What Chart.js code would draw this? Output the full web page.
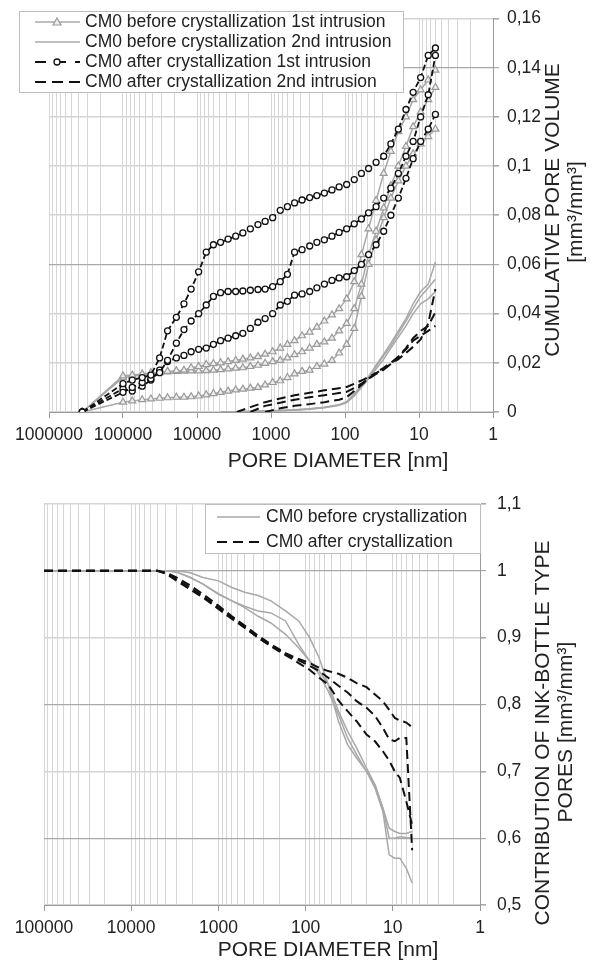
<!DOCTYPE html>
<html>
<head>
<meta charset="utf-8">
<script src="https://cdn.jsdelivr.net/npm/chart.js@4/dist/chart.umd.min.js"></script>
<style>
  body { margin: 0; background: #fff; }
  canvas { position: absolute; left: 0; }
  #top_chart { top: 0; }
  #bottom_chart { top: 482px; }
</style>
</head>
<body>
<canvas id="top_chart" width="595" height="480"></canvas>
<canvas id="bottom_chart" width="595" height="482"></canvas>
<script>
// ---- top chart: cumulative pore volume ----
// pore diameters [nm], 1st intrusion
const d_first = [355000, 100000, 75000, 55000, 42000, 32000, 25000, 19000, 15000, 12000, 9500, 7500, 6000, 4800, 3800, 3000, 2400, 1900, 1500, 1200, 950, 750, 600, 480, 380, 300, 240, 190, 150, 120, 95, 75, 60, 48, 38, 30, 24, 19, 15, 12, 9.5, 7.5, 6];
// before crystallization, 1st intrusion (3 samples)
const before_1st_a = [0, 0.0147, 0.015, 0.0155, 0.016, 0.0162, 0.0165, 0.0168, 0.017, 0.018, 0.0185, 0.0193, 0.0197, 0.02, 0.0205, 0.021, 0.0215, 0.022, 0.0225, 0.0235, 0.0245, 0.026, 0.0275, 0.029, 0.031, 0.0325, 0.0345, 0.037, 0.0395, 0.042, 0.046, 0.053, 0.064, 0.0745, 0.086, 0.097, 0.106, 0.114, 0.12, 0.127, 0.131, 0.135, 0.139];
const before_1st_b = [0, 0.014, 0.0145, 0.015, 0.0155, 0.016, 0.0163, 0.0165, 0.0166, 0.0167, 0.0167, 0.0168, 0.017, 0.0172, 0.0175, 0.0178, 0.018, 0.0185, 0.019, 0.0198, 0.0205, 0.021, 0.022, 0.0233, 0.0245, 0.026, 0.0275, 0.0285, 0.03, 0.033, 0.036, 0.042, 0.052, 0.064, 0.0735, 0.083, 0.092, 0.1, 0.108, 0.116, 0.122, 0.127, 0.132];
const before_1st_c = [0, 0.004, 0.0045, 0.005, 0.0053, 0.0056, 0.0058, 0.006, 0.006, 0.0062, 0.0065, 0.007, 0.0075, 0.008, 0.0085, 0.009, 0.0093, 0.0097, 0.01, 0.011, 0.012, 0.0127, 0.014, 0.0155, 0.0165, 0.017, 0.0185, 0.0195, 0.021, 0.024, 0.0275, 0.034, 0.047, 0.06, 0.07, 0.079, 0.087, 0.094, 0.1, 0.105, 0.109, 0.112, 0.115];
// after crystallization, 1st intrusion (3 samples)
const after_1st_a = [0, 0.0115, 0.013, 0.014, 0.015, 0.022, 0.033, 0.0385, 0.044, 0.05, 0.057, 0.065, 0.068, 0.069, 0.0703, 0.0715, 0.0728, 0.0745, 0.0762, 0.0775, 0.079, 0.082, 0.0835, 0.085, 0.0862, 0.0872, 0.088, 0.089, 0.0903, 0.0915, 0.0925, 0.0945, 0.097, 0.099, 0.1015, 0.104, 0.109, 0.115, 0.123, 0.13, 0.136, 0.145, 0.148];
const after_1st_b = [0, 0.008, 0.01, 0.012, 0.0135, 0.016, 0.021, 0.028, 0.0335, 0.037, 0.04, 0.0435, 0.047, 0.0485, 0.049, 0.049, 0.0492, 0.0495, 0.0498, 0.05, 0.051, 0.053, 0.056, 0.065, 0.066, 0.0675, 0.069, 0.07, 0.0715, 0.073, 0.0745, 0.0765, 0.0785, 0.081, 0.0835, 0.087, 0.091, 0.097, 0.104, 0.11, 0.12, 0.129, 0.145];
const after_1st_c = [0, 0.0095, 0.0085, 0.0105, 0.013, 0.017, 0.0205, 0.022, 0.023, 0.0245, 0.0255, 0.026, 0.0275, 0.029, 0.03, 0.031, 0.032, 0.034, 0.0365, 0.038, 0.04, 0.0435, 0.045, 0.0475, 0.048, 0.049, 0.0505, 0.052, 0.0535, 0.0545, 0.055, 0.0575, 0.06, 0.064, 0.068, 0.0735, 0.08, 0.087, 0.095, 0.103, 0.11, 0.115, 0.121];
// pore diameters [nm], 2nd intrusion
const d_second = [4800, 2900, 1900, 1200, 750, 480, 300, 190, 120, 95, 75, 60, 48, 38, 30, 24, 19, 15, 12, 9.5, 7.5, 6];
const before_2nd_a = [0, 0.0001, 0.0002, 0.0004, 0.0006, 0.0008, 0.0012, 0.0018, 0.0028, 0.004, 0.0075, 0.0105, 0.0145, 0.019, 0.0235, 0.028, 0.033, 0.038, 0.044, 0.049, 0.052, 0.061];
const before_2nd_b = [0, 0.0001, 0.0002, 0.0004, 0.0006, 0.0009, 0.0013, 0.0019, 0.003, 0.0042, 0.007, 0.0105, 0.014, 0.0185, 0.023, 0.027, 0.032, 0.037, 0.042, 0.047, 0.0505, 0.054];
const before_2nd_c = [0, 0.0001, 0.0002, 0.0003, 0.0005, 0.0007, 0.0011, 0.0017, 0.0027, 0.0038, 0.0065, 0.01, 0.0135, 0.0175, 0.0215, 0.026, 0.0305, 0.035, 0.04, 0.044, 0.046, 0.049];
const after_2nd_a = [null, 0, 0.002, 0.004, 0.0055, 0.0068, 0.0078, 0.0088, 0.0097, 0.0102, 0.0115, 0.0128, 0.0143, 0.0158, 0.0175, 0.0195, 0.0215, 0.024, 0.0265, 0.0295, 0.036, 0.05];
const after_2nd_b = [null, null, 0, 0.0025, 0.0038, 0.005, 0.006, 0.0068, 0.0077, 0.0082, 0.0098, 0.0115, 0.0135, 0.0155, 0.0172, 0.0195, 0.0225, 0.026, 0.03, 0.033, 0.035, 0.0406];
const after_2nd_c = [null, null, null, 0, 0.0015, 0.0025, 0.0032, 0.004, 0.005, 0.006, 0.0085, 0.011, 0.0135, 0.016, 0.018, 0.02, 0.0225, 0.0255, 0.029, 0.031, 0.033, 0.035];
const top_y_ticks = [0, 0.02, 0.04, 0.06, 0.08, 0.1, 0.12, 0.14, 0.16];

// ---- bottom chart: ink-bottle pores ----
const d_ink = [100000, 10000, 5000, 3900, 3000, 2100, 1500, 1000, 700, 500, 350, 250, 170, 120, 90, 70, 55, 42, 33, 26, 20, 16, 13, 11, 9.5, 8.3, 7, 6];
const ink_before_a = [1, 1, 1, 1, 1, 0.997, 0.99, 0.985, 0.975, 0.968, 0.963, 0.955, 0.94, 0.925, 0.9, 0.87, 0.83, 0.775, 0.74, 0.72, 0.7, 0.68, 0.645, 0.615, 0.61, 0.607, 0.607, 0.61];
const ink_before_b = [1, 1, 1, 1, 0.998, 0.99, 0.98, 0.965, 0.955, 0.947, 0.94, 0.937, 0.925, 0.89, 0.865, 0.85, 0.83, 0.79, 0.76, 0.735, 0.705, 0.68, 0.645, 0.6, 0.6, 0.602, 0.601, 0.6];
const ink_before_c = [1, 1, 1, 1, 0.998, 0.99, 0.98, 0.966, 0.955, 0.945, 0.932, 0.922, 0.905, 0.885, 0.865, 0.845, 0.82, 0.785, 0.75, 0.725, 0.7, 0.675, 0.64, 0.575, 0.57, 0.57, 0.555, 0.533];
const ink_after_a = [1, 1, 1, 0.997, 0.99, 0.978, 0.965, 0.948, 0.932, 0.918, 0.903, 0.89, 0.877, 0.868, 0.862, 0.855, 0.85, 0.846, 0.84, 0.832, 0.826, 0.815, 0.805, 0.792, 0.78, 0.776, 0.773, 0.766];
const ink_after_b = [1, 1, 1, 0.995, 0.985, 0.972, 0.96, 0.943, 0.928, 0.915, 0.9, 0.888, 0.876, 0.866, 0.858, 0.85, 0.84, 0.828, 0.818, 0.805, 0.795, 0.783, 0.765, 0.748, 0.745, 0.75, 0.75, 0.582];
const ink_after_c = [1, 1, 1, 0.996, 0.987, 0.975, 0.962, 0.945, 0.93, 0.915, 0.9, 0.887, 0.874, 0.862, 0.852, 0.84, 0.83, 0.806, 0.79, 0.775, 0.755, 0.745, 0.73, 0.716, 0.7, 0.69, 0.655, 0.62];
const bottom_y_ticks = [0.5, 0.6, 0.7, 0.8, 0.9, 1, 1.1];

const FONT = '"Liberation Sans", Arial, sans-serif';
const GRAY = '#a8a8a8', BLACK = '#111';
Chart.defaults.font.family = FONT;
Chart.defaults.font.size = 17.5;
Chart.defaults.color = '#222';

const pts = (xs, ys) => xs.map((x, i) => ({ x: x, y: ys[i] }));
const isDecade = v => Math.abs(Math.log10(v) - Math.round(Math.log10(v))) < 1e-9;
const fmtComma = v => String(+v.toFixed(2)).replace('.', ',');

// minor log gridlines 1..9 x 10^n
const logTicks = maxExp => {
    const t = [];
    for (let e = 0; e < maxExp; e++) for (let m = 1; m < 10; m++) t.push(m * Math.pow(10, e));
    t.push(Math.pow(10, maxExp));
    return t;
};

const triSet = ys => ({ data: pts(d_first, ys), borderColor: GRAY, borderWidth: 1.5, pointStyle: 'triangle', pointRadius: 4, pointBorderWidth: 1.2, pointBorderColor: '#9a9a9a', pointBackgroundColor: '#eeeeee' });
const circSet = ys => ({ data: pts(d_first, ys), borderColor: BLACK, borderWidth: 1.8, borderDash: [6, 3], pointStyle: 'circle', pointRadius: 3, pointBorderWidth: 1.3, pointBorderColor: BLACK, pointBackgroundColor: '#fff' });
const grayLine = (xs, ys) => ({ data: pts(xs, ys), borderColor: GRAY, borderWidth: 1.5, pointRadius: 0 });
const dashLine = (xs, ys) => ({ data: pts(xs, ys), borderColor: BLACK, borderWidth: 2, borderDash: [9, 5], pointRadius: 0 });

// text, titles and legend drawn on top
const drawLine = (ctx, x1, x2, y, color, w, dash) => {
    ctx.save(); ctx.strokeStyle = color; ctx.lineWidth = w; ctx.setLineDash(dash || []);
    ctx.beginPath(); ctx.moveTo(x1, y); ctx.lineTo(x2, y); ctx.stroke(); ctx.restore();
};
const drawTri = (ctx, x, y) => {
    ctx.save(); ctx.fillStyle = '#eeeeee'; ctx.strokeStyle = '#9a9a9a'; ctx.lineWidth = 1.2;
    ctx.beginPath(); ctx.moveTo(x, y - 4); ctx.lineTo(x + 4, y + 3); ctx.lineTo(x - 4, y + 3); ctx.closePath(); ctx.fill(); ctx.stroke(); ctx.restore();
};
const drawCirc = (ctx, x, y) => {
    ctx.save(); ctx.fillStyle = '#fff'; ctx.strokeStyle = BLACK; ctx.lineWidth = 1.3;
    ctx.beginPath(); ctx.arc(x, y, 3, 0, Math.PI * 2); ctx.fill(); ctx.stroke(); ctx.restore();
};
const drawText = (ctx, text, x, y, size, rot, align) => {
    ctx.save(); ctx.font = size + 'px ' + FONT; ctx.fillStyle = '#222';
    ctx.textAlign = align || 'center'; ctx.textBaseline = 'middle';
    ctx.translate(x, y); if (rot) ctx.rotate(-Math.PI / 2);
    ctx.fillText(text, 0, 0); ctx.restore();
};
const legendBox = (ctx, x, y, w, h) => {
    ctx.save(); ctx.fillStyle = '#fff'; ctx.strokeStyle = '#bdbdbd'; ctx.lineWidth = 1;
    ctx.fillRect(x, y, w, h); ctx.strokeRect(x + 0.5, y + 0.5, w, h); ctx.restore();
};

const topDecor = {
    id: 'topDecor',
    afterDraw(chart) {
        const ctx = chart.ctx;
        legendBox(ctx, 19, 11, 384, 81);
        drawLine(ctx, 35, 80, 22, GRAY, 1.5); drawTri(ctx, 57, 22);
        drawLine(ctx, 35, 80, 42, GRAY, 1.5);
        drawLine(ctx, 35, 80, 62, BLACK, 1.8, [11, 9]); drawCirc(ctx, 57, 62);
        drawLine(ctx, 35, 80, 82, BLACK, 2.2, [11, 6]);
        drawText(ctx, 'CM0 before crystallization 1st intrusion', 85, 22, 17.5, false, 'left');
        drawText(ctx, 'CM0 before crystallization 2nd intrusion', 85, 42, 17.5, false, 'left');
        drawText(ctx, 'CM0 after crystallization 1st intrusion', 85, 62, 17.5, false, 'left');
        drawText(ctx, 'CM0 after crystallization 2nd intrusion', 85, 82, 17.5, false, 'left');
        drawText(ctx, 'CUMULATIVE PORE VOLUME', 553, 210, 21, true);
        drawText(ctx, '[mm³/mm³]', 576, 212, 21, true);
        drawText(ctx, 'PORE DIAMETER [nm]', 338, 461, 21);
    }
};
const bottomDecor = {
    id: 'bottomDecor',
    afterDraw(chart) {
        const ctx = chart.ctx;
        legendBox(ctx, 205, 22, 275, 49);
        drawLine(ctx, 217, 260, 35, GRAY, 1.5);
        drawLine(ctx, 217, 260, 60, BLACK, 2.2, [10, 6]);
        drawText(ctx, 'CM0 before crystallization', 266, 35, 17.5, false, 'left');
        drawText(ctx, 'CM0 after crystallization', 266, 60, 17.5, false, 'left');
        drawText(ctx, 'CONTRIBUTION OF INK-BOTTLE TYPE', 543, 251, 21, true);
        drawText(ctx, 'PORES [mm³/mm³]', 566, 250, 21, true);
        drawText(ctx, 'PORE DIAMETER [nm]', 328, 468, 21);
    }
};

const xScale = (maxExp, axisHeight) => ({
    type: 'logarithmic', reverse: true, min: 1, max: Math.pow(10, maxExp),
    afterBuildTicks: s => { s.ticks = logTicks(maxExp).map(v => ({ value: v })); },
    afterFit: s => { s.height = axisHeight; },
    ticks: { autoSkip: false, maxRotation: 0, minRotation: 0, padding: 7, callback: v => isDecade(v) ? String(Math.round(v)) : '' },
    grid: { color: '#d6d6d6', lineWidth: 1, tickLength: 6, tickColor: c => isDecade(c.tick.value) ? '#999' : 'rgba(0,0,0,0)' },
    border: { color: '#9a9a9a', width: 1 }
});
const yScale = (min, max, step, ticksArr, darkSet, axisWidth, pad) => ({
    position: 'right', min: min, max: max,
    afterBuildTicks: s => { s.ticks = ticksArr.map(v => ({ value: v })); },
    afterFit: s => { s.width = axisWidth; },
    ticks: { padding: pad, callback: v => v === 0 ? '0' : fmtComma(v) },
    grid: {
        color: c => darkSet.some(d => Math.abs(d - c.tick.value) < 1e-9) ? '#a9a9a9' : '#d4d4d4',
        lineWidth: c => darkSet.some(d => Math.abs(d - c.tick.value) < 1e-9) ? 1.2 : 1.6,
        tickLength: 6, tickColor: '#a9a9a9'
    },
    border: { color: '#9a9a9a', width: 1 }
});

const commonOpts = {
    responsive: false, animation: false, devicePixelRatio: 1, events: [],
    plugins: { legend: { display: false }, tooltip: { enabled: false } },
    elements: { line: { tension: 0, fill: false } }
};

new Chart(document.getElementById('top_chart').getContext('2d'), {
    type: 'line',
    data: {
        datasets: [
            circSet(after_1st_a), circSet(after_1st_b), circSet(after_1st_c),
            triSet(before_1st_a), triSet(before_1st_b), triSet(before_1st_c),
            dashLine(d_second, after_2nd_a), dashLine(d_second, after_2nd_b), dashLine(d_second, after_2nd_c),
            grayLine(d_second, before_2nd_a), grayLine(d_second, before_2nd_b), grayLine(d_second, before_2nd_c)
        ]
    },
    options: {
        ...commonOpts,
        layout: { padding: { left: 49, top: 10, right: 0, bottom: 0 } },
        scales: {
            x: xScale(6, 68),
            y: yScale(0, 0.16, 0.02, top_y_ticks, [0.06, 0.14], 102, 8)
        }
    },
    plugins: [topDecor]
});

new Chart(document.getElementById('bottom_chart').getContext('2d'), {
    type: 'line',
    data: {
        datasets: [
            dashLine(d_ink, ink_after_a), dashLine(d_ink, ink_after_b), dashLine(d_ink, ink_after_c),
            grayLine(d_ink, ink_before_a), grayLine(d_ink, ink_before_b), grayLine(d_ink, ink_before_c)
        ]
    },
    options: {
        ...commonOpts,
        layout: { padding: { left: 44, top: 22, right: 0, bottom: 0 } },
        scales: {
            x: xScale(5, 59),
            y: yScale(0.5, 1.1, 0.1, bottom_y_ticks, [0.6, 0.8, 1], 115, 11)
        }
    },
    plugins: [bottomDecor]
});
</script>
</body>
</html>
